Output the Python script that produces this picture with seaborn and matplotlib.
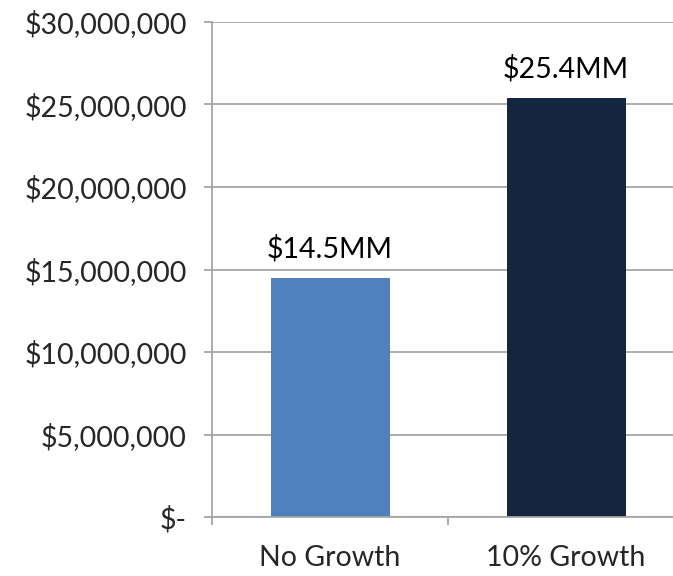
import matplotlib
matplotlib.use("Agg")
import matplotlib.pyplot as plt
import matplotlib.ticker as mticker
import seaborn as sns
import pandas as pd

# Chart data
scenarios = ["No Growth", "10% Growth"]
values = [14_500_000, 25_400_000]
value_labels = ["$14.5MM", "$25.4MM"]
bar_colors = ["#4F81BD", "#14263F"]

df = pd.DataFrame({"scenario": scenarios, "value": values})

sns.set_style("white")
plt.rcParams["font.family"] = ["Lato", "DejaVu Sans"]

fig = plt.figure(figsize=(6.73, 5.76), dpi=100)
ax = fig.add_axes([212 / 673, 1 - 517 / 576, 1 - 212 / 673, (517 - 22) / 576])

sns.barplot(data=df, x="scenario", y="value", hue="scenario",
            palette=bar_colors, width=0.504, saturation=1, linewidth=0,
            ax=ax, legend=False)

# Value labels above bars
for i, (v, lab) in enumerate(zip(values, value_labels)):
    ax.annotate(lab, (i, v), xytext=(0, 11), textcoords="offset points",
                ha="center", va="bottom", fontsize=20.5, color="black")

ax.set_ylim(0, 30_000_000)
ax.set_xlim(-0.5, 1.453)
ax.yaxis.set_major_locator(mticker.MultipleLocator(5_000_000))
ax.yaxis.set_major_formatter(mticker.FuncFormatter(
    lambda y, _: "$-" if y == 0 else f"${y:,.0f}"))

grid_color = "#A6A6A6"
ax.yaxis.grid(True, color=grid_color, linewidth=1.3)
ax.set_axisbelow(True)
for side in ["top", "right"]:
    ax.spines[side].set_visible(False)
for side in ["left", "bottom"]:
    ax.spines[side].set_color(grid_color)
    ax.spines[side].set_linewidth(1.3)

ax.tick_params(axis="y", length=6, width=1.3, color=grid_color, pad=12,
               labelsize=20.5, left=True)
ax.tick_params(axis="x", which="major", length=0, pad=20, labelsize=20.5)
ax.xaxis.set_minor_locator(mticker.FixedLocator([-0.5, 0.5]))
ax.tick_params(axis="x", which="minor", length=6, width=1.3, color=grid_color,
               bottom=True)

ax.set_xlabel("")
ax.set_ylabel("")

fig.savefig("out.png", dpi=100)
